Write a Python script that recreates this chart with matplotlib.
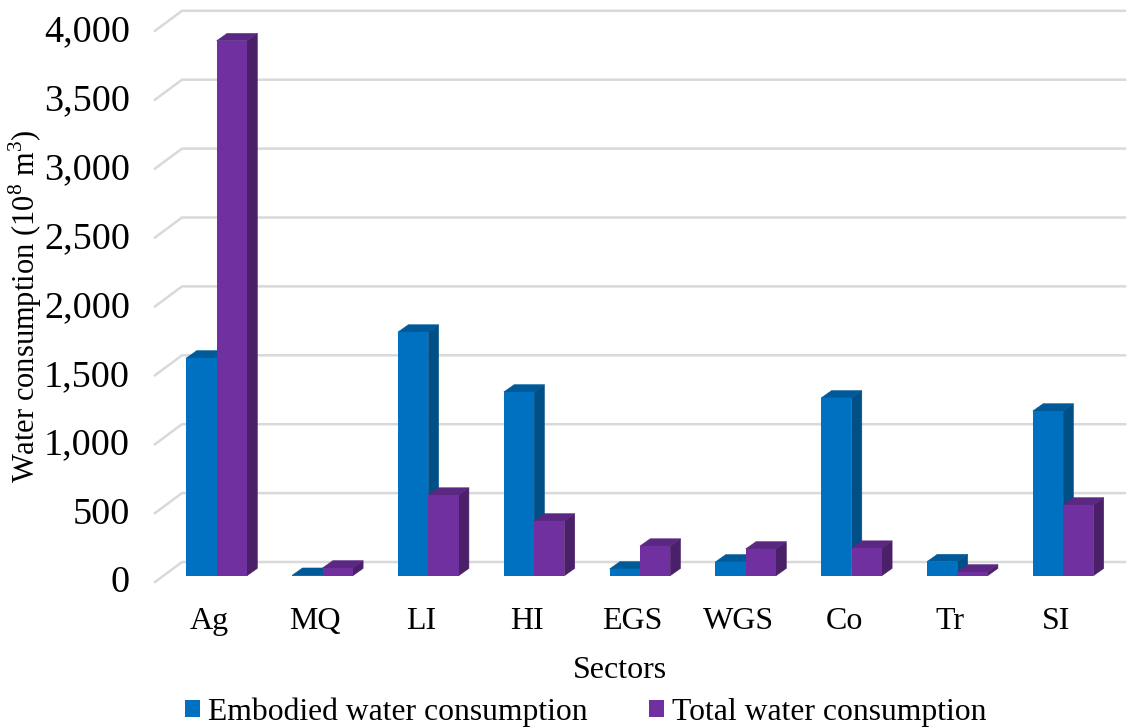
"""Water consumption by sector, Excel-style 3D clustered columns."""
import matplotlib
matplotlib.use('Agg')
import matplotlib.pyplot as plt
from matplotlib.patches import Polygon, Patch
from matplotlib.transforms import ScaledTranslation
import numpy as np

plt.rcParams['font.family'] = ['Liberation Serif', 'DejaVu Serif']
plt.rcParams['mathtext.fontset'] = 'custom'
plt.rcParams['mathtext.rm'] = 'Liberation Serif'

sectors = ['Ag', 'MQ', 'LI', 'HI', 'EGS', 'WGS', 'Co', 'Tr', 'SI']
embodied = [1580, 3, 1768, 1333, 49, 100, 1290, 102, 1195]
total = [3882, 56, 585, 397, 215, 194, 200, 27, 513]
y_ticks = [0, 500, 1000, 1500, 2000, 2500, 3000, 3500, 4000]
y_labels = ['0', '500', '1,000', '1,500', '2,000', '2,500', '3,000', '3,500', '4,000']

W, H = 1129, 727
PX_CAT = 105.8      # pixels between categories
PX_VAL = 68.9 / 500 # pixels per unit of water
X0, Y0 = 216.7, 575.7  # pixel position of first group centre, value 0
AX_L, AX_R, AX_T, AX_B = 155, 1129, 0, 600

BAR_W = 30.3 / PX_CAT
DX = 10.3 / PX_CAT  # bar depth
DY = 7.3 / PX_VAL
WALL_BACK_X = (182 - X0) / PX_CAT
WALL_FRONT_X = (155 - X0) / PX_CAT
WALL_BACK_Y = 13.7 / PX_VAL
WALL_FRONT_Y = -6.3 / PX_VAL
GRID_END = (1125 - X0) / PX_CAT

fig = plt.figure(figsize=(W / 100, H / 100), dpi=100)
ax = fig.add_axes([AX_L / W, 1 - AX_B / H, (AX_R - AX_L) / W, (AX_B - AX_T) / H])
ax.set_xlim((AX_L - X0) / PX_CAT, (AX_R - X0) / PX_CAT)
ax.set_ylim((Y0 - AX_B) / PX_VAL, (Y0 - AX_T) / PX_VAL)
for s in ax.spines.values():
    s.set_visible(False)

# gridlines on floor/back wall
for v in y_ticks:
    ax.plot([WALL_FRONT_X, WALL_BACK_X, GRID_END],
            [v + WALL_FRONT_Y, v + WALL_BACK_Y, v + WALL_BACK_Y],
            color='#d9d9d9', lw=1.8, zorder=1, clip_on=False)


def draw_bars(x_left, values, front, side, top, label, z):
    ax.bar(x_left, values, width=BAR_W, align='edge', color=front,
           edgecolor='none', zorder=z + 0.2, label=label)
    for x, v in zip(x_left, values):
        ax.add_patch(Polygon([(x + BAR_W, 0), (x + BAR_W + DX, DY),
                              (x + BAR_W + DX, v + DY), (x + BAR_W, v)],
                             closed=True, facecolor=side, edgecolor=side, lw=0.4, zorder=z))
        ax.add_patch(Polygon([(x, v), (x + DX, v + DY),
                              (x + BAR_W + DX, v + DY), (x + BAR_W, v)],
                             closed=True, facecolor=top, edgecolor=top, lw=0.4, zorder=z + 0.1))


idx = np.arange(len(sectors))
draw_bars(idx - BAR_W, embodied, '#0070c0', '#004f87', '#005a9a',
          'Embodied water consumption', 2)
draw_bars(idx, total, '#7030a0', '#4a2068', '#5a2882',
          'Total water consumption', 3)

# tick labels sit a little off the bars because of the 3D floor
ax.set_yticks(y_ticks, y_labels, fontsize=27.5)
ax.set_xticks(idx, sectors, fontsize=23)
ax.tick_params(axis='both', length=0)
ax.tick_params(axis='y', pad=18)
ax.tick_params(axis='x', pad=5)
for t in ax.get_xticklabels():
    t.set_transform(t.get_transform() + ScaledTranslation(-7.5 / 100, 0, fig.dpi_scale_trans))
for t in ax.get_yticklabels():
    t.set_transform(t.get_transform() + ScaledTranslation(0, -3.5 / 100, fig.dpi_scale_trans))

fig.text(620 / W, 1 - 670 / H, 'Sectors', fontsize=23, ha='center', va='center')
fig.text(25 / W, 1 - 306 / H, 'Water consumption (10$^{8}$ m$^{3}$)', fontsize=22,
         rotation=90, ha='center', va='center')

handles = [Patch(facecolor='#0070c0'), Patch(facecolor='#7030a0')]
fig.legend(handles, ['Embodied water consumption', 'Total water consumption'],
           ncol=2, frameon=False, fontsize=22.8, loc='center',
           bbox_to_anchor=(586 / W, 1 - 712 / H), handlelength=0.48, handleheight=0.48,
           handletextpad=0.25, columnspacing=1.94)

fig.savefig('out.png', dpi=100)
